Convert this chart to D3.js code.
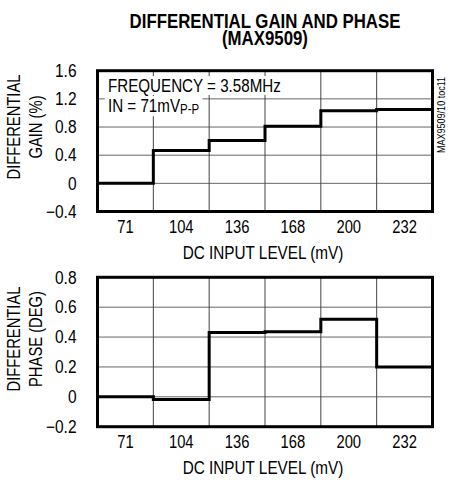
<!DOCTYPE html>
<html>
<head>
<meta charset="utf-8">
<script src="https://cdn.jsdelivr.net/npm/d3@7"></script>
<style>
  body { margin: 0; background: #fff; }
  svg { display: block; font-family: "Liberation Sans", Arial, sans-serif; }
</style>
</head>
<body>
<div id="svg-container"></div>
<script>
// Categories (DC input level, mV).
const levels = ['71', '104', '136', '168', '200', '232'];

// Series values.
const gainValues = [0, 0.465, 0.61, 0.81, 1.03, 1.05];
const phaseValues = [0, -0.018, 0.43, 0.435, 0.52, 0.2];

// Tick labels.
const gainTicks = [-0.4, 0, 0.4, 0.8, 1.2, 1.6];
const phaseTicks = [-0.2, 0, 0.2, 0.4, 0.6, 0.8];

const width = 458;
const height = 487;
const narrow = 0.82; // no narrow font installed, squeeze the glyphs instead

// Squeeze text horizontally, like Arial Narrow.
function condense(sel, k)
{
  sel.each(function() {
    const w = this.getComputedTextLength();
    d3.select(this)
      .attr('textLength', w * k)
      .attr('lengthAdjust', 'spacingAndGlyphs');
  });
}

const svg = d3.select('div#svg-container')
  .append('svg')
  .attr('width', width)
  .attr('height', height);

// Title.
svg.append('text')
  .attr('x', 265)
  .attr('y', 27.5)
  .attr('text-anchor', 'middle')
  .style('font-size', '20.5px')
  .style('font-weight', 'bold')
  .text('DIFFERENTIAL GAIN AND PHASE')
  .call(condense, narrow);

svg.append('text')
  .attr('x', 265)
  .attr('y', 44.5)
  .attr('text-anchor', 'middle')
  .style('font-size', '20.5px')
  .style('font-weight', 'bold')
  .text('(MAX9509)')
  .call(condense, narrow);

function drawPanel(opts)
{
  const g = svg.append('g');

  const xScale = d3.scaleBand()
    .domain(levels)
    .range([97.5, 432.5])
    .padding(0);

  const yScale = d3.scaleLinear()
    .domain(opts.domain)
    .range([opts.bottom, opts.top]);

  const bw = xScale.bandwidth();

  // Horizontal grid.
  g.selectAll('line.hgrid')
    .data(opts.ticks.slice(1, -1))
    .enter()
    .append('line')
    .attr('class', 'hgrid')
    .attr('x1', 97.5)
    .attr('x2', 432.5)
    .attr('y1', (d) => yScale(d))
    .attr('y2', (d) => yScale(d))
    .attr('stroke', '#666')
    .attr('stroke-width', 1);

  // Vertical grid at band boundaries.
  g.selectAll('line.vgrid')
    .data(levels.slice(1))
    .enter()
    .append('line')
    .attr('class', 'vgrid')
    .attr('x1', (d) => xScale(d))
    .attr('x2', (d) => xScale(d))
    .attr('y1', opts.top)
    .attr('y2', opts.bottom)
    .attr('stroke', '#444')
    .attr('stroke-width', 1);

  // Note text with white boxes behind it.
  if (opts.notes)
  {
    opts.notes(g);
  }

  // Step line.
  const pts = [];
  levels.forEach((c, i) => {
    pts.push([xScale(c), opts.values[i]]);
    pts.push([xScale(c) + bw, opts.values[i]]);
  });
  const line = d3.line()
    .x((d) => d[0])
    .y((d) => yScale(d[1]));

  g.append('path')
    .datum(pts)
    .attr('d', line)
    .attr('fill', 'none')
    .attr('stroke', '#000')
    .attr('stroke-width', 3);

  // Frame.
  g.append('rect')
    .attr('x', 97.5)
    .attr('y', opts.top)
    .attr('width', 335)
    .attr('height', opts.bottom - opts.top)
    .attr('fill', 'none')
    .attr('stroke', '#000')
    .attr('stroke-width', 3);

  // Axes.
  const yAxis = d3.axisLeft(yScale)
    .tickValues(opts.ticks)
    .tickSize(0)
    .tickPadding(21)
    .tickFormat((d) => d === 0 ? '0' : d3.format('.1f')(d));

  g.append('g')
    .attr('transform', 'translate(97.5,0)')
    .call(yAxis)
    .call((a) => a.select('.domain').remove())
    .attr('font-family', null)
    .attr('font-size', null)
    .selectAll('text')
    .attr('fill', '#000')
    .style('font-size', '18px')
    .call(condense, 0.86);

  const xAxis = d3.axisBottom(xScale)
    .tickSize(0)
    .tickPadding(9);

  g.append('g')
    .attr('transform', `translate(0,${opts.bottom})`)
    .call(xAxis)
    .call((a) => a.select('.domain').remove())
    .attr('font-family', null)
    .attr('font-size', null)
    .selectAll('text')
    .attr('fill', '#000')
    .style('font-size', '18px')
    .call(condense, narrow);

  // X axis label.
  g.append('text')
    .attr('x', 263)
    .attr('y', opts.bottom + 47)
    .attr('text-anchor', 'middle')
    .style('font-size', '18px')
    .text('DC INPUT LEVEL (mV)')
    .call(condense, 0.85);

  // Y axis label, two lines.
  opts.ylabel.forEach((s, i) => {
    g.append('text')
      .attr('transform', `translate(${20 + i * 22},${opts.labelY}) rotate(-90)`)
      .attr('text-anchor', 'middle')
      .style('font-size', '18px')
      .text(s)
      .call(condense, narrow);
  });
}

drawPanel({
  domain: [-0.4, 1.6],
  ticks: gainTicks,
  values: gainValues,
  top: 70.7,
  bottom: 211.5,
  labelY: 127,
  ylabel: ['DIFFERENTIAL', 'GAIN (%)'],
  notes: (g) => {
    const lines = [
      {y: 91.5, parts: [['FREQUENCY = 3.58MHz', 18.5, 0]]},
      {y: 111.5, parts: [['IN = 71mV', 18.5, 0], ['P-P', 14, 2.5]]}
    ];
    lines.forEach((ln) => {
      const box = g.append('g')
        .attr('transform', `translate(108,${ln.y}) scale(${narrow},1)`);
      const t = box.append('text')
        .attr('x', 0)
        .attr('y', 0)
        .style('font-size', '18.5px');
      ln.parts.forEach((p) => {
        t.append('tspan')
          .style('font-size', p[1] + 'px')
          .attr('dy', p[2])
          .text(p[0]);
      });
      const bb = t.node().getBBox();
      box.insert('rect', function() { return t.node(); })
        .attr('x', bb.x - 4)
        .attr('y', bb.y + 1)
        .attr('width', bb.width + 8)
        .attr('height', bb.height - 2)
        .attr('fill', '#fff');
    });
  }
});

drawPanel({
  domain: [-0.2, 0.8],
  ticks: phaseTicks,
  values: phaseValues,
  top: 277.3,
  bottom: 426.7,
  labelY: 339,
  ylabel: ['DIFFERENTIAL', 'PHASE (DEG)']
});

// Side note.
svg.append('text')
  .attr('transform', 'translate(445,153) rotate(-90)')
  .style('font-size', '11px')
  .text('MAX9509/10 toc11')
  .call(condense, narrow);
</script>
</body>
</html>
